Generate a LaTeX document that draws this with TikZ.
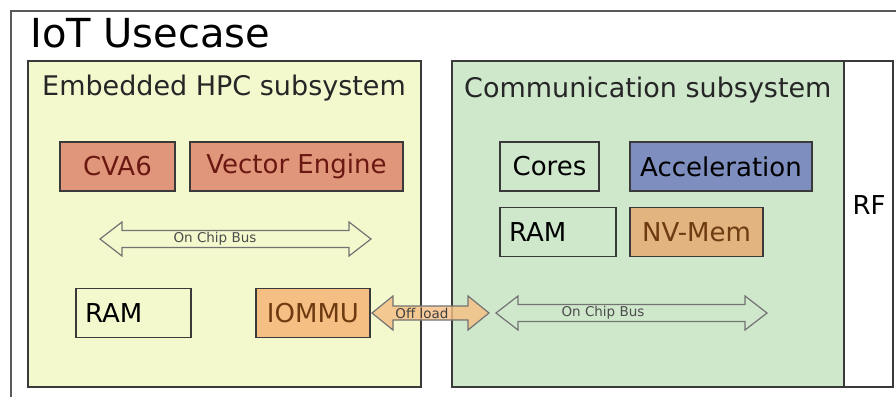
\documentclass[tikz,border=0pt]{standalone}
\usepackage{fontspec}
\setmainfont{DejaVu Sans}
\definecolor{hpcfill}{HTML}{F3F9CD}
\definecolor{comfill}{HTML}{CFE8CC}
\definecolor{redfill}{HTML}{E0967A}
\definecolor{redtext}{HTML}{6B1812}
\definecolor{orfill}{HTML}{F5BE82}
\definecolor{ortext}{HTML}{6E3A12}
\definecolor{nvfill}{HTML}{E2B47F}
\definecolor{accfill}{HTML}{7E8EBE}
\definecolor{edge}{HTML}{3A3A3A}
\newcommand{\fatarrow}[7]{\draw[#1] (#2,#4) -- ({#2+#7},{#4-#6}) -- ({#2+#7},{#4-#5}) -- ({#3-#7},{#4-#5}) -- ({#3-#7},{#4-#6}) -- (#3,#4) -- ({#3-#7},{#4+#6}) -- ({#3-#7},{#4+#5}) -- ({#2+#7},{#4+#5}) -- ({#2+#7},{#4+#6}) -- cycle;}
\begin{document}
\begin{tikzpicture}[x=1pt,y=-1pt,
  frameline/.style={draw=black!65, line width=1.5pt},
  subbox/.style={draw=edge, line width=1.6pt, inner sep=0pt, anchor=north west, minimum height=326pt},
  blk/.style={draw=edge, line width=1.6pt, inner sep=0pt, font=\fontsize{26}{30}\selectfont, minimum height=49pt},
  leftblk/.style={blk, align=left, inner xsep=9pt},
  busline/.style={draw=black!55, line width=1.2pt, line join=miter},
  buslbl/.style={font=\fontsize{13.5}{15}\selectfont, text=black!70, inner sep=0pt},
  subtitle/.style={anchor=base west, inner sep=0pt, font=\fontsize{27}{32}\selectfont, text=black!85}
]
\useasboundingbox (0,0) rectangle (896,397);
\fill[white] (0,0) rectangle (896,397);
% outer frame
\coordinate (fbl) at (11,397);
\coordinate (ftl) at (11,11);
\coordinate (ftr) at (896,11);
\draw[frameline] (fbl) -- (ftl) -- (ftr);
\node[anchor=base west, inner sep=0pt, font=\fontsize{40}{48}\selectfont] (title) at (30,47) {IoT Usecase};

% subsystems
\node[subbox, fill=hpcfill, minimum width=393pt] (hpc) at (27,60) {};
\node[subbox, fill=comfill, minimum width=392pt] (com) at (451,60) {};
\node[subbox, fill=white, minimum width=49pt] (rf) at (843,60) {};
\node[subtitle] (hpct) at (42,95) {Embedded HPC subsystem};
\node[subtitle] (comt) at (464,97) {Communication subsystem};
\node[font=\fontsize{26}{30}\selectfont, inner sep=0pt] (rft) at (869,205) {RF};

% HPC blocks
\node[blk, fill=redfill, text=redtext, minimum width=115pt] (cva6) at (117.5,166.5) {CVA6};
\node[blk, fill=redfill, text=redtext, minimum width=213pt] (ve) at (296.5,166.5) {Vector Engine};
\node[leftblk, text width=97pt, minimum width=115pt] (ram1) at (133.5,313) {RAM};
\node[blk, fill=orfill, text=ortext, minimum width=114pt] (iommu) at (313,313) {IOMMU};

% Communication blocks
\node[blk, minimum width=99pt] (cores) at (549.5,166.5) {Cores};
\node[blk, fill=accfill, minimum width=182pt] (acc) at (721,166.5) {Acceleration};
\node[leftblk, text width=98pt, minimum width=116pt] (ram2) at (558,232) {RAM};
\node[blk, fill=nvfill, text=ortext, minimum width=133pt] (nvm) at (696.5,232) {NV-Mem};

% buses
\fatarrow{busline}{100}{371}{239}{8.5}{17}{22}
\node[buslbl] (bus1) at (215,239) {On Chip Bus};
\fatarrow{busline}{496}{767}{313}{8.5}{17}{22}
\node[buslbl] (bus2) at (603,313) {On Chip Bus};

% off load
\fatarrow{draw=black!55, line width=1.2pt, fill=orfill, fill opacity=0.8}{372}{489}{313}{7}{17}{21}
\node[buslbl, text=black!75] (offl) at (422,313) {Off load};
\end{tikzpicture}
\end{document}
